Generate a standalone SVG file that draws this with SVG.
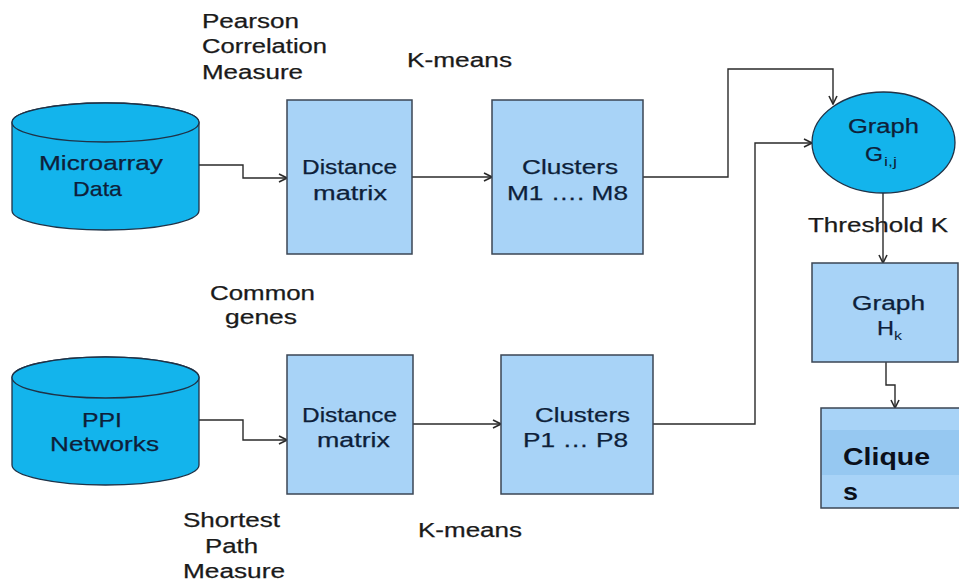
<svg xmlns="http://www.w3.org/2000/svg" width="959" height="583" viewBox="0 0 959 583">
  <style>
    text { font-family: "Liberation Sans", Arial, sans-serif; }
    .lbl { font-size: 19.5px; fill: #1a1a1a; stroke: #1a1a1a; stroke-width: 0.25; }
    .db { font-size: 21px; fill: #0e1f3a; stroke: #0e1f3a; stroke-width: 0.25; }
    .bx { font-size: 20px; fill: #0e1f3a; stroke: #0e1f3a; stroke-width: 0.25; }
    .sub { font-size: 12.5px; fill: #0e1f3a; }
    .bold { font-size: 24px; font-weight: bold; fill: #0a0f1a; }
    .cyl { fill: #13b4ec; stroke: #1f3247; stroke-width: 1.3; }
    .box { fill: #a8d3f7; stroke: #3b4654; stroke-width: 1.5; }
    .edge { fill: none; stroke: #2a2a2a; stroke-width: 1.4; }
  </style>
  <defs>
    <marker id="arrow" viewBox="0 0 10 10" refX="9" refY="5" markerWidth="10" markerHeight="10" markerUnits="userSpaceOnUse" orient="auto">
      <path d="M1,1 L9,5 L1,9" fill="none" stroke="#2a2a2a" stroke-width="1.6"/>
    </marker>
  </defs>

  <rect width="959" height="583" fill="#ffffff"/>

  <!-- free labels -->
  <g id="labels" class="lbl">
    <text x="202" y="28" textLength="97" lengthAdjust="spacingAndGlyphs">Pearson</text>
    <text x="202" y="53" textLength="125" lengthAdjust="spacingAndGlyphs">Correlation</text>
    <text x="202" y="79" textLength="101" lengthAdjust="spacingAndGlyphs">Measure</text>
    <text x="407" y="67" textLength="105" lengthAdjust="spacingAndGlyphs">K-means</text>
    <text x="210" y="300" textLength="105" lengthAdjust="spacingAndGlyphs">Common</text>
    <text x="225" y="324" textLength="72" lengthAdjust="spacingAndGlyphs">genes</text>
    <text x="183" y="527" textLength="97" lengthAdjust="spacingAndGlyphs">Shortest</text>
    <text x="205" y="553" textLength="53" lengthAdjust="spacingAndGlyphs">Path</text>
    <text x="183" y="578" textLength="102" lengthAdjust="spacingAndGlyphs">Measure</text>
    <text x="418" y="537" textLength="104" lengthAdjust="spacingAndGlyphs">K-means</text>
    <text x="808" y="232" textLength="140" lengthAdjust="spacingAndGlyphs">Threshold K</text>
  </g>

  <!-- connectors -->
  <g id="connectors" class="edge">
    <path d="M199,165 H243 V178 H287" marker-end="url(#arrow)"/>
    <path d="M412,177 H492" marker-end="url(#arrow)"/>
    <path d="M643,177 H728 V69 H833 V104" marker-end="url(#arrow)"/>
    <path d="M199,420 H243 V440 H287" marker-end="url(#arrow)"/>
    <path d="M413,424 H501" marker-end="url(#arrow)"/>
    <path d="M653,424 H755 V143 H812" marker-end="url(#arrow)"/>
    <path d="M883,193 V263" marker-end="url(#arrow)"/>
    <path d="M886,362 V385 H895 V408" marker-end="url(#arrow)"/>
  </g>

  <!-- Microarray Data store -->
  <g id="microarray">
    <path class="cyl" d="M12,122.5 V210.5 A93.5,19.5 0 0 0 199,210.5 V122.5 A93.5,19.5 0 0 0 12,122.5 Z"/>
    <ellipse class="cyl" cx="105.5" cy="122.5" rx="93.5" ry="19.5"/>
    <text class="db" x="39" y="170" textLength="124" lengthAdjust="spacingAndGlyphs">Microarray</text>
    <text class="db" x="73" y="196" textLength="49" lengthAdjust="spacingAndGlyphs">Data</text>
  </g>

  <!-- PPI Networks store -->
  <g id="ppi">
    <path class="cyl" d="M12,377.5 V465 A93.5,20 0 0 0 199,465 V377.5 A93.5,20.5 0 0 0 12,377.5 Z"/>
    <ellipse class="cyl" cx="105.5" cy="377.5" rx="93.5" ry="20.5"/>
    <text class="db" x="82" y="427" textLength="40" lengthAdjust="spacingAndGlyphs">PPI</text>
    <text class="db" x="50" y="451" textLength="109" lengthAdjust="spacingAndGlyphs">Networks</text>
  </g>

  <!-- upper pipeline -->
  <g id="distance-m">
    <rect class="box" x="287" y="100" width="125" height="154"/>
    <text class="bx" x="302" y="174" textLength="95" lengthAdjust="spacingAndGlyphs">Distance</text>
    <text class="bx" x="313" y="200" textLength="74" lengthAdjust="spacingAndGlyphs">matrix</text>
  </g>
  <g id="clusters-m">
    <rect class="box" x="492" y="100" width="151" height="154"/>
    <text class="bx" x="522" y="174" textLength="96" lengthAdjust="spacingAndGlyphs">Clusters</text>
    <text class="bx" x="507" y="200" textLength="121" lengthAdjust="spacingAndGlyphs">M1 …. M8</text>
  </g>

  <!-- lower pipeline -->
  <g id="distance-p">
    <rect class="box" x="287" y="355" width="126" height="139"/>
    <text class="bx" x="302" y="422" textLength="95" lengthAdjust="spacingAndGlyphs">Distance</text>
    <text class="bx" x="317" y="447" textLength="73" lengthAdjust="spacingAndGlyphs">matrix</text>
  </g>
  <g id="clusters-p">
    <rect class="box" x="501" y="355" width="152" height="139"/>
    <text class="bx" x="535" y="422" textLength="95" lengthAdjust="spacingAndGlyphs">Clusters</text>
    <text class="bx" x="523" y="447" textLength="105" lengthAdjust="spacingAndGlyphs">P1 … P8</text>
  </g>

  <!-- Graph G(i,j) -->
  <g id="graph-g">
    <ellipse class="cyl" cx="883.5" cy="142.5" rx="71.5" ry="50.5"/>
    <text class="bx" x="848" y="133" textLength="71" lengthAdjust="spacingAndGlyphs">Graph</text>
    <text class="bx" x="865" y="161" textLength="18" lengthAdjust="spacingAndGlyphs">G</text>
    <text class="sub" x="884" y="166" textLength="13" lengthAdjust="spacingAndGlyphs">i,j</text>
  </g>

  <!-- Graph H(k) -->
  <g id="graph-h">
    <rect class="box" x="812" y="263" width="146" height="99"/>
    <text class="bx" x="852" y="310" textLength="73" lengthAdjust="spacingAndGlyphs">Graph</text>
    <text class="bx" x="877" y="335" textLength="17" lengthAdjust="spacingAndGlyphs">H</text>
    <text class="sub" x="894" y="340" textLength="8" lengthAdjust="spacingAndGlyphs">k</text>
  </g>

  <!-- Cliques -->
  <g id="cliques">
    <rect class="box" x="821" y="408" width="150" height="100"/>
    <rect x="822" y="430" width="137" height="45" fill="#96c8f1"/>
    <text class="bold" x="843" y="465" textLength="87" lengthAdjust="spacingAndGlyphs">Clique</text>
    <text class="bold" x="843" y="500" textLength="15" lengthAdjust="spacingAndGlyphs">s</text>
  </g>
</svg>
